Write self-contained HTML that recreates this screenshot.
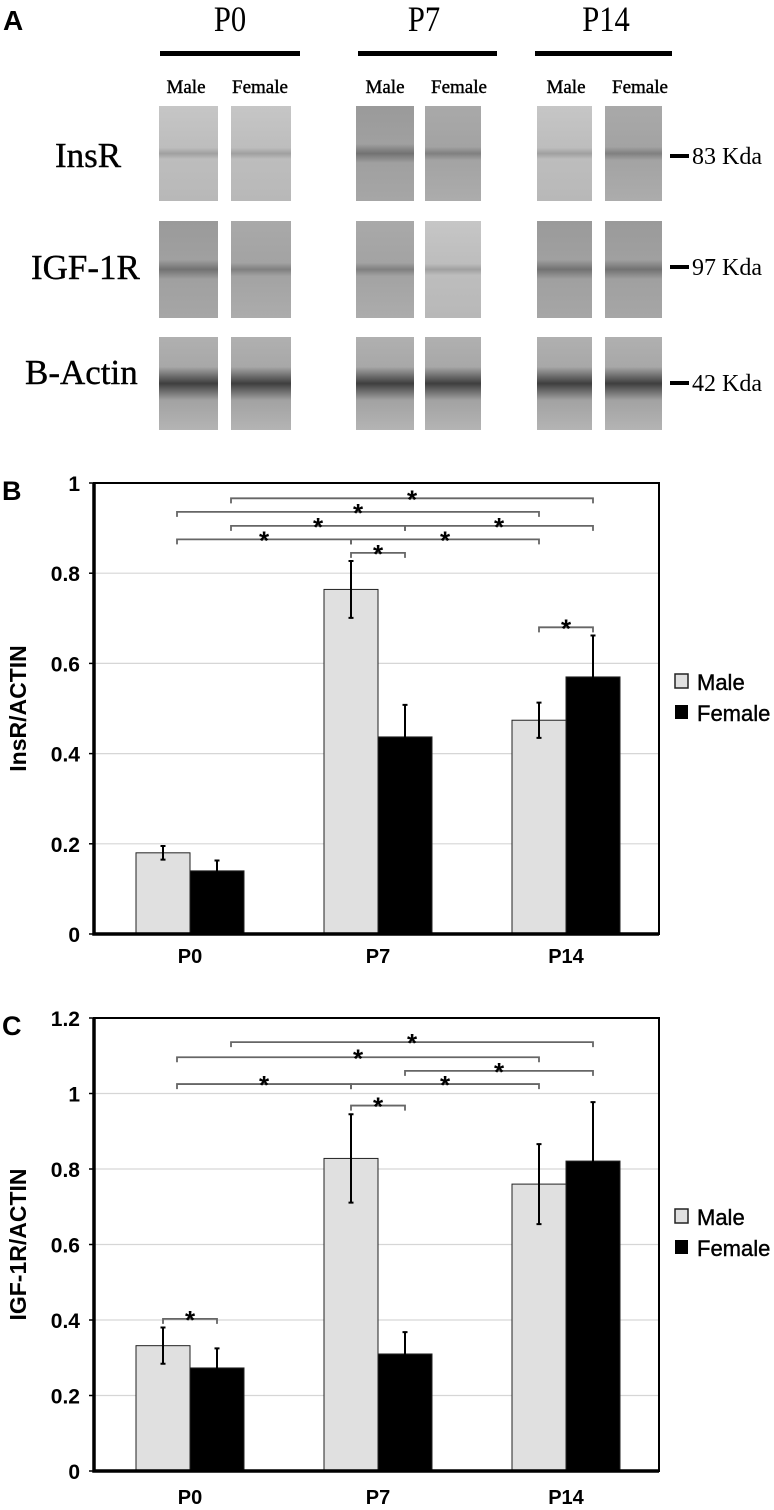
<!DOCTYPE html>
<html><head><meta charset="utf-8">
<style>
html,body{margin:0;padding:0;background:#fff;}
body{width:774px;height:1510px;overflow:hidden;position:relative;font-family:"Liberation Sans",sans-serif;}
svg{position:absolute;left:0;top:0;}
.serif{font-family:"Liberation Serif",serif;}
</style></head>
<body>
<svg id="root" width="774" height="1510" viewBox="0 0 774 1510">
<defs>
  <linearGradient id="g1" x1="0" y1="0" x2="0" y2="1">
    <stop offset="0" stop-color="#a9a9a9"/><stop offset="0.43" stop-color="#a3a3a3"/>
    <stop offset="0.5" stop-color="#808080"/><stop offset="0.57" stop-color="#a3a3a3"/><stop offset="1" stop-color="#acacac"/>
  </linearGradient>
  <linearGradient id="g2" x1="0" y1="0" x2="0" y2="1">
    <stop offset="0" stop-color="#c6c6c6"/><stop offset="0.44" stop-color="#bdbdbd"/>
    <stop offset="0.5" stop-color="#a0a0a0"/><stop offset="0.56" stop-color="#bdbdbd"/><stop offset="1" stop-color="#b8b8b8"/>
  </linearGradient>
  <linearGradient id="g3" x1="0" y1="0" x2="0" y2="1">
    <stop offset="0" stop-color="#9a9a9a"/><stop offset="0.4" stop-color="#a0a0a0"/>
    <stop offset="0.5" stop-color="#727272"/><stop offset="0.6" stop-color="#a0a0a0"/><stop offset="1" stop-color="#a6a6a6"/>
  </linearGradient>
  <linearGradient id="g4" x1="0" y1="0" x2="0" y2="1">
    <stop offset="0" stop-color="#b0b0b0"/><stop offset="0.32" stop-color="#a8a8a8"/>
    <stop offset="0.5" stop-color="#3e3e3e"/><stop offset="0.68" stop-color="#a2a2a2"/><stop offset="1" stop-color="#b4b4b4"/>
  </linearGradient>
</defs>
<g id="panelA">
  <text x="3" y="30" font-size="28" font-weight="bold">A</text>
  <g class="serif" font-size="36" text-anchor="middle">
    <text transform="translate(230,31) scale(0.85,1)">P0</text>
    <text transform="translate(424,31) scale(0.85,1)">P7</text>
    <text transform="translate(606,31) scale(0.85,1)">P14</text>
  </g>
  <rect x="160" y="51" width="140" height="5" fill="#000"/>
  <rect x="358" y="51" width="139" height="5" fill="#000"/>
  <rect x="535" y="51" width="137" height="5" fill="#000"/>
  <g class="serif" font-size="19" text-anchor="middle" stroke="#000" stroke-width="0.4">
    <text x="186" y="93">Male</text>
    <text x="260" y="93">Female</text>
    <text x="385" y="93">Male</text>
    <text x="459" y="93">Female</text>
    <text x="566" y="93">Male</text>
    <text x="640" y="93">Female</text>
  </g>
  <g class="serif" font-size="35" stroke="#000" stroke-width="0.4">
    <text x="55" y="167">InsR</text>
    <text x="31" y="279">IGF-1R</text>
    <text x="25" y="384">B-Actin</text>
  </g>
  <g id="blots"></g>
  <g class="serif" font-size="24">
    <rect x="670" y="154" width="19" height="4" fill="#000"/>
    <text x="692" y="164">83 Kda</text>
    <rect x="670" y="265" width="19" height="4" fill="#000"/>
    <text x="692" y="275">97 Kda</text>
    <rect x="670" y="381" width="19" height="4" fill="#000"/>
    <text x="692" y="391">42 Kda</text>
  </g>
</g>
<g id="chartB"></g>
<g id="chartC"></g>
</svg>
<script>
// ---------- Chart B data ----------
const categories = ["P0","P7","P14"];
const insrMale = [0.18, 0.764, 0.474];
const insrMaleErr = [0.015, 0.063, 0.039];
const insrFemale = [0.14, 0.437, 0.570];
const insrFemaleErr = [0.023, 0.071, 0.092];
const insrTicks = ["0","0.2","0.4","0.6","0.8","1"];
const insrTickValues = [0,0.2,0.4,0.6,0.8,1];
// brackets: [start bar index, end bar index, level]; bar index = group*2 + (0 male, 1 female)
const insrBrackets = [[1,5,0.966],[0,4,0.936],[1,3,0.905],[3,5,0.905],[0,2,0.875],[2,4,0.875],[2,3,0.845],[4,5,0.680]];
// ---------- Chart C data ----------
const igfMale = [0.332, 0.828, 0.760];
const igfMaleErr = [0.048, 0.117, 0.106];
const igfFemale = [0.273, 0.310, 0.821];
const igfFemaleErr = [0.052, 0.058, 0.156];
const igfTicks = ["0","0.2","0.4","0.6","0.8","1","1.2"];
const igfTickValues = [0,0.2,0.4,0.6,0.8,1,1.2];
const igfBrackets = [[1,5,1.136],[0,4,1.096],[3,5,1.060],[0,2,1.025],[2,4,1.025],[2,3,0.968],[0,1,0.403]];

const NS="http://www.w3.org/2000/svg";
function mk(parent,tag,attrs,text){const e=document.createElementNS(NS,tag);for(const k in attrs)e.setAttribute(k,attrs[k]);if(text!==undefined)e.textContent=text;parent.appendChild(e);return e;}

// blots
(function(){
  const g=document.getElementById('blots');
  const lanes=[[159,59],[231,60],[356,58],[425,56],[537,55],[605,57]];
  const rows=[[106,95],[221,97],[337,93]];
  const fills=[["g2","g2","g3","g1","g2","g1"],["g3","g1","g1","g2","g3","g3"],["g4","g4","g4","g4","g4","g4"]];
  rows.forEach((r,ri)=>lanes.forEach((l,li)=>{
    const e=mk(g,'rect',{x:l[0],y:r[0],width:l[1],height:r[1],fill:'url(#'+fills[ri][li]+')'});
    
    
  }));
})();

function drawChart(gid,o){
  const g=document.getElementById(gid);
  const L=94,R=659,T=o.top,B=o.bottom;
  const y=v=>B-(v/o.max)*(B-T);
  const groupW=188, barW=54;
  const barX=(ci,s)=>L+42+ci*groupW+s*barW;
  const barC=i=>barX(Math.floor(i/2),i%2)+barW/2;
  o.tickValues.forEach((v,i)=>{
    if(v>0 && v<o.max){const ln=mk(g,'line',{x1:L,x2:R,y1:y(v),y2:y(v),stroke:'#d6d6d6','stroke-width':1.2});
      }
    const t=mk(g,'text',{x:80,y:y(v)+8,'font-size':21,'font-weight':'bold','text-anchor':'end'},o.ticks[i]);
    
    const tk=mk(g,'line',{x1:L-5,x2:L,y1:y(v),y2:y(v),stroke:'#000','stroke-width':1.5});
    
  });
  categories.forEach((c,ci)=>{
    [[o.male,o.maleErr,'#e0e0e0'],[o.female,o.femaleErr,'#000']].forEach((s,si)=>{
      const v=s[0][ci],e=s[1][ci],x=barX(ci,si);
      const r=mk(g,'rect',{x:x,y:y(v),width:barW,height:B-y(v),fill:s[2],stroke:'#222','stroke-width':1});
      
      
      const cx=x+barW/2;
      const eb=mk(g,'path',{d:`M${cx},${y(v+e)}V${y(v-e)}M${cx-2.5},${y(v+e)}H${cx+2.5}M${cx-2.5},${y(v-e)}H${cx+2.5}`,stroke:'#000','stroke-width':2,fill:'none'});
      
    });
    const xl=mk(g,'text',{x:L+42+ci*groupW+barW,y:o.xLabelY,'font-size':20,'font-weight':'bold','text-anchor':'middle'},c);
    
  });
  o.brackets.forEach(b=>{
    const x1=barC(b[0])+(b[0]<2&&b[1]>1?14:0), x2=barC(b[1]), yy=y(b[2]);
    const p=mk(g,'path',{d:`M${x1},${yy+5}V${yy}H${x2}V${yy+5}`,stroke:'#666','stroke-width':1.8,fill:'none'});
    
    const s=mk(g,'text',{x:(x1+x2)/2,y:yy+10,'font-size':26,'font-weight':'bold','text-anchor':'middle'},'*');
    
  });
  const fr=mk(g,'rect',{x:L,y:T,width:R-L,height:B-T,fill:'none',stroke:'#000','stroke-width':2});
  
  const ax=mk(g,'path',{d:`M${L},${T}V${B}H${R}`,stroke:'#000','stroke-width':3.5,fill:'none'});
  
  const yc=(T+B)/2;
  const yt=mk(g,'text',{x:0,y:0,'font-size':23,'font-weight':'bold','text-anchor':'middle',transform:`translate(26,${yc}) rotate(-90)`},o.yTitle);
  
  const pl=mk(g,'text',{x:2,y:T+17,'font-size':27,'font-weight':'bold'},o.letter);
  
  const ly=o.legendY;
  const lm=mk(g,'rect',{x:675,y:ly,width:13,height:14,fill:'#e0e0e0',stroke:'#222','stroke-width':1.5});
  
  const lt=mk(g,'text',{x:697,y:ly+16,'font-size':22,stroke:'#000','stroke-width':0.4},'Male');
  
  const lf=mk(g,'rect',{x:675,y:ly+31,width:13,height:14,fill:'#000'});
  
  const lt2=mk(g,'text',{x:697,y:ly+47,'font-size':22,stroke:'#000','stroke-width':0.4},'Female');
  
}
drawChart('chartB',{top:483,bottom:934,max:1,male:insrMale,maleErr:insrMaleErr,female:insrFemale,femaleErr:insrFemaleErr,
  ticks:insrTicks,tickValues:insrTickValues,brackets:insrBrackets,xLabelY:963,yTitle:'InsR/ACTIN',letter:'B',legendY:674});
drawChart('chartC',{top:1018,bottom:1471,max:1.2,male:igfMale,maleErr:igfMaleErr,female:igfFemale,femaleErr:igfFemaleErr,
  ticks:igfTicks,tickValues:igfTickValues,brackets:igfBrackets,xLabelY:1504,yTitle:'IGF-1R/ACTIN',letter:'C',legendY:1209});
</script>
</body></html>
